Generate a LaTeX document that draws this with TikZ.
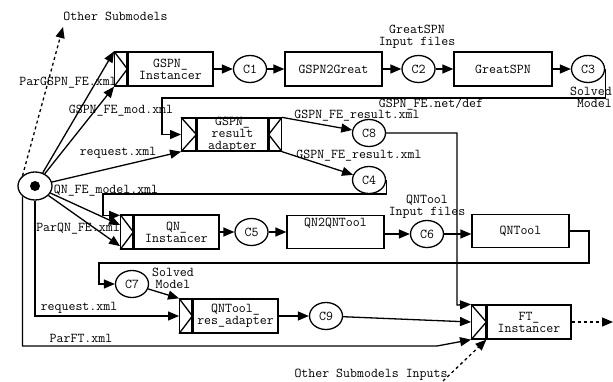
\documentclass[tikz,border=0pt]{standalone}
\usepackage{fontspec}
\usetikzlibrary{arrows.meta,shapes.geometric,calc}
\begin{document}
\begin{tikzpicture}[x=1pt,y=-1pt,
  lw/.style={line width=1.3pt},
  txt/.style={font=\ttfamily\fontsize{13.5}{12}\selectfont},
  box/.style={draw, lw, txt, minimum height=34pt, inner sep=0pt, align=center},
  comp/.style={draw, lw, minimum height=34pt, minimum width=12pt, inner sep=0pt},
  cnode/.style={draw, ellipse, lw, txt, minimum width=33pt, minimum height=27pt, inner sep=0pt},
  lbl/.style={txt, inner sep=0pt, align=center},
  arr/.style={lw, -{Triangle[length=11pt,width=9pt]}},
  darr/.style={arr, dash pattern=on 3pt off 3pt}]
\useasboundingbox (0,0) rectangle (613,381);

% root
\node[draw, ellipse, lw, minimum width=34pt, minimum height=28pt, inner sep=0pt] (root) at (35,186) {};
\fill (root.center) circle (5pt);

% GSPN row
\node[box, minimum width=85pt] (gi) at (170.5,69) {GSPN\_\\Instancer};
\node[comp, anchor=east] (gil) at (gi.west) {};
\draw[lw] (gil.north west) -- (gil.east) -- (gil.south west);
\node[cnode] (c1) at (250,69) {C1};
\node[box, minimum width=97pt] (g2g) at (333.5,69) {GSPN2Great};
\node[cnode] (c2) at (418.5,69) {C2};
\node[box, minimum width=98pt] (gs) at (503,69) {GreatSPN};
\node[cnode] (c3) at (588,69) {C3};

% GSPN result adapter
\node[draw, lw, minimum width=71pt, minimum height=33pt, inner sep=0pt] (ad) at (232.5,134.5) {};
\node[lbl] (adt) at (ad.center) {GSPN\_\\result\\adapter};
\node[draw, lw, minimum width=14pt, minimum height=33pt, inner sep=0pt, anchor=east] (adl) at (ad.west) {};
\node[draw, lw, minimum width=12pt, minimum height=33pt, inner sep=0pt, anchor=west] (adr) at (ad.east) {};
\draw[lw] (adl.north west) -- (adl.east) -- (adl.south west);
\draw[lw] (adr.north east) -- (adr.west) -- (adr.south east);
\node[cnode] (c8) at (369,133) {C8};
\node[cnode] (c4) at (369,180) {C4};

% QN row
\node[box, minimum width=85pt] (qi) at (176.5,232) {QN\_\\Instancer};
\node[comp, anchor=east] (qil) at (qi.west) {};
\draw[lw] (qil.north west) -- (qil.east) -- (qil.south west);
\node[cnode] (c5) at (251.5,232) {C5};
\node[draw, lw, minimum width=97pt, minimum height=33pt, inner sep=0pt] (q2q) at (335.5,232) {};
\node[lbl] (q2qt) at (335.5,223) {QN2QNTool};
\node[cnode] (c6) at (427,234) {C6};
\node[box, minimum width=97pt, minimum height=33pt] (qt) at (520.5,231) {QNTool};

% QNTool result adapter
\node[cnode] (c7) at (132,284) {C7};
\node[box, minimum width=85pt] (qra) at (235.5,316) {QNTool\_\\res\_adapter};
\node[comp, anchor=east] (qral) at (qra.west) {};
\draw[lw] (qral.north west) -- (qral.east) -- (qral.south west);
\node[cnode] (c9) at (326,316) {C9};

% FT
\node[box, minimum width=84pt] (ft) at (529,322) {FT\_\\Instancer};
\node[comp, minimum width=14pt, anchor=east] (ftl) at (ft.west) {};
\draw[lw] (ftl.north west) -- (ftl.east) -- (ftl.south west);

% text labels
\node[lbl] (los) at (115.5,16) {Other Submodels};
\node[lbl] (losi) at (371,375) {Other Submodels Inputs};
\node[lbl] (l1) at (68,83) {ParGSPN\_FE.xml};
\node[lbl] (l2) at (121,111) {GSPN\_FE\_mod.xml};
\node[lbl] (l3) at (118,153) {request.xml};
\node[lbl] (l4) at (106,191) {QN\_FE\_model.xml};
\node[lbl] (l5) at (78,229) {ParQN\_FE.xml};
\node[lbl] (l6) at (79,308) {request.xml};
\node[lbl] (l7) at (81,338) {ParFT.xml};
\node[lbl] (l8) at (417,37) {GreatSPN\\Input files};
\node[lbl, align=right, anchor=east] (l9) at (612,97) {Solved\\Model};
\node[lbl] (l10) at (431,104) {GSPN\_FE.net/def};
\node[lbl] (l11) at (357,116) {GSPN\_FE\_result.xml};
\node[lbl] (l12) at (359,156) {GSPN\_FE\_result.xml};
\node[lbl] (l13) at (427,207) {QNTool\\Input files};
\node[lbl] (l14) at (173,278) {Solved\\Model};

% coordinates
\coordinate (fb1) at (162,98);
\coordinate (fb2) at (103,194);
\coordinate (fb3a) at (589,263);
\coordinate (fb3b) at (99,263);
\coordinate (c8x) at (457,305);
\coordinate (pft) at (437,346);
\coordinate (os1) at (63,27);
\coordinate (osi1) at (443,381);
\coordinate (out) at (613,322);

% GSPN chain
\draw[arr] (gi) -- (c1);
\draw[arr] (c1) -- (g2g);
\draw[arr] (g2g) -- (c2);
\draw[arr] (c2) -- (gs);
\draw[arr] (gs) -- (c3);
\draw[arr] (c3.east) |- (fb1) |- (adl.west);
\draw[arr] (root) -- (gil.north west);
\draw[arr] (root) -- (gil.south west);
\draw[arr] (root) -- (adl.south west);
\draw[arr] (adr.north east) -- (c8);
\draw[arr] (adr.south east) -- (c4);
\draw[arr] (c8.east) -| (c8x) -- (ftl.north west);
\draw[arr] (c4.east) |- (fb2) |- ($(qil.north west)+(0,1)$);

% QN chain
\draw[arr] (root) -- ($(qil.north west)!0.3!(qil.south west)$);
\draw[arr] (root) -- ($(qil.north west)!0.9!(qil.south west)$);
\draw[arr] (qi) -- (c5);
\draw[arr] (c5) -- (q2q);
\draw[arr] (q2q.east |- c6) -- (c6);
\draw[arr] (c6) -- (qt.west |- c6);
\draw[arr] (qt.east) -| (fb3a) -- (fb3b) |- (c7.west);
\draw[arr] (c7) -- (qral.north west);
\draw[arr] (root.south) |- (qral.west);
\draw[arr] (qra) -- (c9);
\draw[arr] (c9) -- (ftl.west);
\draw[arr] (root.south west) |- (pft) -- (ftl.south west);

% dotted
\draw[darr] (root.north west) -- (os1);
\draw[darr] (osi1) -- (ftl.south east);
\draw[darr] (ft.east) -- (out);
\end{tikzpicture}
\end{document}
